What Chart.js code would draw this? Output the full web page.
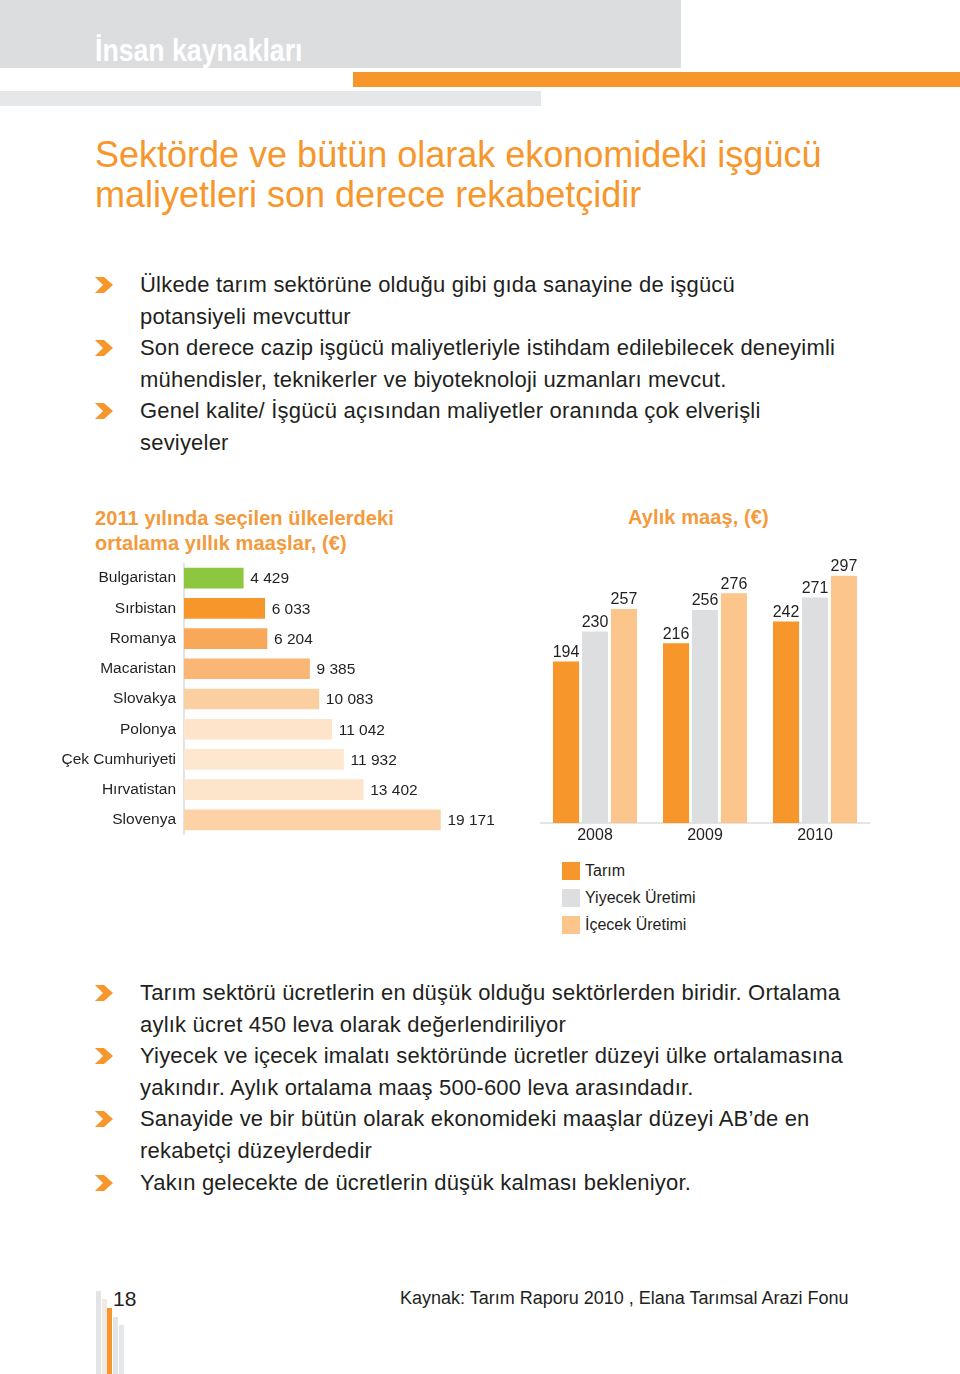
<!DOCTYPE html>
<html lang="tr">
<head>
<meta charset="utf-8">
<title>İnsan kaynakları</title>
<script src="https://cdn.jsdelivr.net/npm/chart.js@4.4.1/dist/chart.umd.min.js"></script>
<style>
  html, body { margin: 0; padding: 0; background: #fff; }
  body { width: 960px; height: 1374px; position: relative; overflow: hidden;
         font-family: Arial, "Liberation Sans", sans-serif; color: #231f20; }
  .abs { position: absolute; }
  .hdr { left: 0; top: 0; width: 681px; height: 68px; background: #dcdddf; }
  .hdr span { position: absolute; left: 95px; top: 32px; color: #fff; font-size: 31px; line-height: 38px; font-weight: bold;
              transform: scaleX(0.86); transform-origin: left top; white-space: nowrap; }
  .bar-o { left: 353px; top: 72px; width: 607px; height: 15px; background: #f7962b; }
  .bar-g { left: 0; top: 91px; width: 541px; height: 15px; background: #e6e7e8; }
  .title { left: 95px; top: 135px; color: #f7962b; font-size: 36px; line-height: 40px; white-space: nowrap; }
  .bul { left: 95px; font-size: 22px; letter-spacing: 0.2px; line-height: 31.6px; white-space: nowrap; }
  .bul .ln { padding-left: 45px; position: relative; }
  .bul svg { position: absolute; left: 0; top: 8px; }
  .ctitle { color: #f39a3c; font-weight: bold; font-size: 20px; letter-spacing: 0.1px; line-height: 25px; white-space: nowrap; }
  .legend { left: 562px; top: 862px; font-size: 16px; }
  .legend div { height: 27px; position: relative; padding-left: 23px; line-height: 18px; white-space: nowrap; }
  .legend i { position: absolute; left: 0; top: 0; width: 18px; height: 18px; }
  .src { left: 400px; top: 1288px; font-size: 18px; white-space: nowrap; }
  .pg { left: 113px; top: 1287px; font-size: 21px; }
  .deco { position: absolute; bottom: 0; }
</style>
</head>
<body>
<div class="abs hdr"><span>İnsan kaynakları</span></div>
<div class="abs bar-o"></div>
<div class="abs bar-g"></div>

<div class="abs title">Sektörde ve bütün olarak ekonomideki işgücü<br>maliyetleri son derece rekabetçidir</div>

<div class="abs bul" style="top:269px">
  <div class="ln"><svg width="18" height="16"><polygon points="0,0 9,0 18,8 9,16 0,16 8,8" fill="#f7962b"/></svg>Ülkede tarım sektörüne olduğu gibi gıda sanayine de işgücü</div>
  <div class="ln">potansiyeli mevcuttur</div>
  <div class="ln"><svg width="18" height="16"><polygon points="0,0 9,0 18,8 9,16 0,16 8,8" fill="#f7962b"/></svg>Son derece cazip işgücü maliyetleriyle istihdam edilebilecek deneyimli</div>
  <div class="ln">mühendisler, teknikerler ve biyoteknoloji uzmanları mevcut.</div>
  <div class="ln"><svg width="18" height="16"><polygon points="0,0 9,0 18,8 9,16 0,16 8,8" fill="#f7962b"/></svg>Genel kalite/ İşgücü açısından maliyetler oranında çok elverişli</div>
  <div class="ln">seviyeler</div>
</div>

<div class="abs ctitle" style="left:95px;top:506px">2011 yılında seçilen ülkelerdeki<br>ortalama yıllık maaşlar, (€)</div>
<div class="abs ctitle" style="left:628px;top:505px">Aylık maaş, (€)</div>

<div class="abs" style="left:49px;top:563px;width:456px;height:272px"><canvas id="annual"></canvas></div>
<div class="abs" style="left:540px;top:540px;width:330px;height:313px"><canvas id="monthly"></canvas></div>

<div class="abs legend" id="legend"></div>

<div class="abs bul" style="top:977px">
  <div class="ln"><svg width="18" height="16"><polygon points="0,0 9,0 18,8 9,16 0,16 8,8" fill="#f7962b"/></svg>Tarım sektörü ücretlerin en düşük olduğu sektörlerden biridir. Ortalama</div>
  <div class="ln">aylık ücret 450 leva olarak değerlendiriliyor</div>
  <div class="ln"><svg width="18" height="16"><polygon points="0,0 9,0 18,8 9,16 0,16 8,8" fill="#f7962b"/></svg>Yiyecek ve içecek imalatı sektöründe ücretler düzeyi ülke ortalamasına</div>
  <div class="ln">yakındır. Aylık ortalama maaş 500-600 leva arasındadır.</div>
  <div class="ln"><svg width="18" height="16"><polygon points="0,0 9,0 18,8 9,16 0,16 8,8" fill="#f7962b"/></svg>Sanayide ve bir bütün olarak ekonomideki maaşlar düzeyi AB’de en</div>
  <div class="ln">rekabetçi düzeylerdedir</div>
  <div class="ln"><svg width="18" height="16"><polygon points="0,0 9,0 18,8 9,16 0,16 8,8" fill="#f7962b"/></svg>Yakın gelecekte de ücretlerin düşük kalması bekleniyor.</div>
</div>

<div class="deco" style="left:96px;width:5px;height:83px;background:#e3e4e6"></div>
<div class="deco" style="left:102px;width:5px;height:75px;background:#f1e9e4"></div>
<div class="deco" style="left:107px;width:5px;height:66px;background:#f7962b"></div>
<div class="deco" style="left:113px;width:5px;height:57px;background:#e3e4e6"></div>
<div class="deco" style="left:119px;width:5px;height:49px;background:#e6e7e8"></div>
<div class="abs pg">18</div>
<div class="abs src">Kaynak: Tarım Raporu 2010 , Elana Tarımsal Arazi Fonu</div>

<script>
// 2011 yıllık maaşlar
const countries = ['Bulgaristan', 'Sırbistan', 'Romanya', 'Macaristan', 'Slovakya', 'Polonya', 'Çek Cumhuriyeti', 'Hırvatistan', 'Slovenya'];
const annualWages = [4429, 6033, 6204, 9385, 10083, 11042, 11932, 13402, 19171];

// aylık maaş
const years = ['2008', '2009', '2010'];
const seriesNames = ['Tarım', 'Yiyecek Üretimi', 'İçecek Üretimi'];
const tarim = [194, 216, 242];
const yiyecek = [230, 256, 271];
const icecek = [257, 276, 297];

const barColors = ['#8dc63f', '#f7962b', '#f8a858', '#f9b675', '#fccfa1', '#fee4ca', '#fee7cf', '#fde5cb', '#fcd2a6'];
const seriesColors = ['#f7962b', '#dcdee0', '#fbc58c'];
const FONT = 'Arial, "Liberation Sans", sans-serif';

function fmt(v) {
  return String(v).replace(/\B(?=(\d{3})+(?!\d))/g, ' ');
}

// etiketleri çubukların yanına yaz
const valueLabels = {
  id: 'valueLabels',
  afterDatasetsDraw(chart, args, opts) {
    const ctx = chart.ctx;
    ctx.save();
    ctx.fillStyle = '#231f20';
    ctx.font = opts.size + 'px ' + FONT;
    chart.data.datasets.forEach((ds, i) => {
      chart.getDatasetMeta(i).data.forEach((el, j) => {
        const txt = fmt(ds.data[j]);
        if (opts.horizontal) {
          ctx.textAlign = 'left';
          ctx.textBaseline = 'middle';
          ctx.fillText(txt, el.x + 7, el.y + 1);
        } else {
          ctx.textAlign = 'center';
          ctx.textBaseline = 'bottom';
          ctx.fillText(txt, el.x, el.y - 1);
        }
      });
    });
    ctx.restore();
  }
};

Chart.defaults.font.family = FONT;
Chart.defaults.color = '#231f20';

new Chart(document.getElementById('annual'), {
  type: 'bar',
  data: {
    labels: countries,
    datasets: [{
      data: annualWages,
      backgroundColor: barColors,
      barThickness: 20
    }]
  },
  options: {
    indexAxis: 'y',
    responsive: true,
    maintainAspectRatio: false,
    animation: false,
    layout: { padding: 0 },
    plugins: {
      legend: { display: false },
      tooltip: { enabled: false },
      valueLabels: { horizontal: true, size: 15.5 }
    },
    scales: {
      x: { display: false, min: 0, max: 24000 },
      y: {
        grid: { display: false, drawTicks: false },
        border: { color: '#e3e4e6', width: 2 },
        ticks: { font: { size: 15.5 }, padding: 8, color: '#231f20' },
        afterFit(s) { s.width = 135; s.paddingTop = 0; s.paddingBottom = 0; }
      }
    }
  },
  plugins: [valueLabels]
});

new Chart(document.getElementById('monthly'), {
  type: 'bar',
  data: {
    labels: years,
    datasets: [
      { label: seriesNames[0], data: tarim, backgroundColor: seriesColors[0] },
      { label: seriesNames[1], data: yiyecek, backgroundColor: seriesColors[1] },
      { label: seriesNames[2], data: icecek, backgroundColor: seriesColors[2] }
    ]
  },
  options: {
    responsive: true,
    maintainAspectRatio: false,
    animation: false,
    layout: { padding: 0 },
    datasets: { bar: { categoryPercentage: 0.79, barPercentage: 0.9 } },
    plugins: {
      legend: { display: false },
      tooltip: { enabled: false },
      valueLabels: { horizontal: false, size: 16 }
    },
    scales: {
      x: {
        grid: { display: false, drawTicks: false },
        border: { color: '#e3e4e6', width: 2 },
        ticks: { font: { size: 16 }, padding: 3, color: '#231f20' },
        afterFit(s) { s.height = 30; s.paddingLeft = 0; s.paddingRight = 0; }
      },
      y: { display: false, min: 0, max: 340 }
    }
  },
  plugins: [valueLabels]
});

// lejant
const legend = document.getElementById('legend');
seriesNames.forEach((name, i) => {
  const row = document.createElement('div');
  row.innerHTML = '<i style="background:' + seriesColors[i] + '"></i>' + name;
  legend.appendChild(row);
});
</script>
</body>
</html>
